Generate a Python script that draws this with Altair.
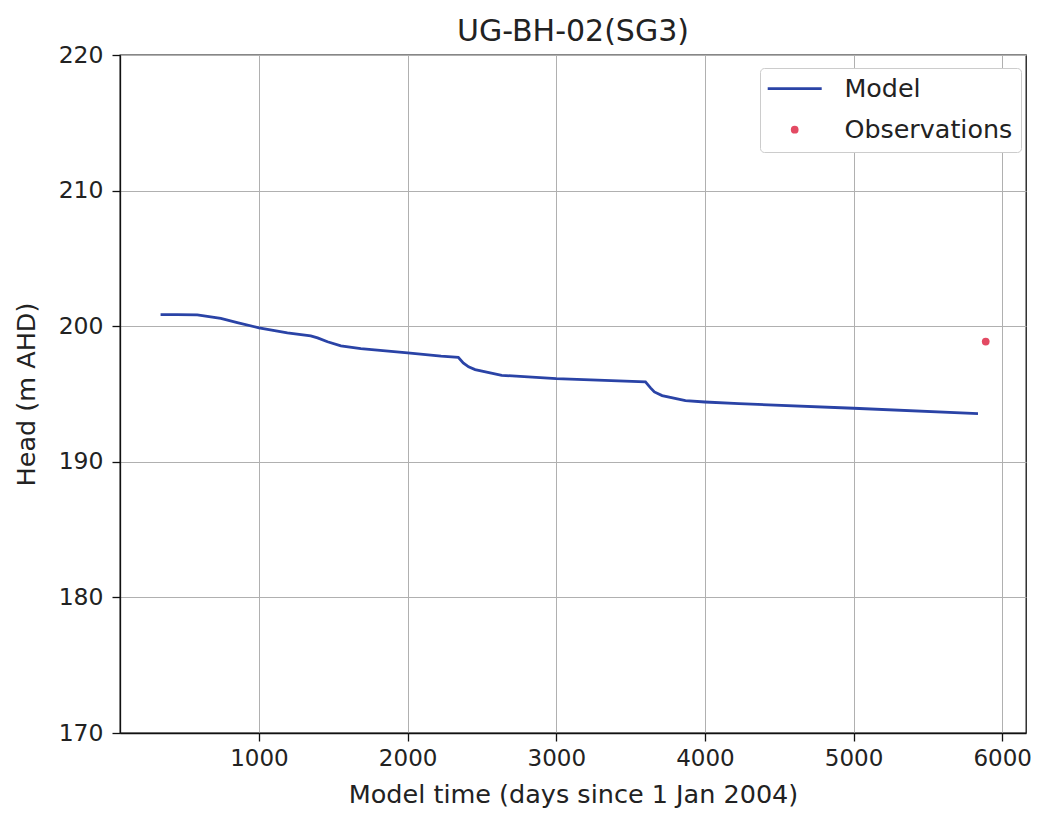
import altair as alt
import pandas as pd

model_days = [338, 450, 585, 743, 854, 1000, 1191, 1348, 1394, 1461, 1551, 1685, 2000,
              2225, 2341, 2374, 2410, 2454, 2633, 3000, 3600, 3634, 3660, 3712, 3869,
              4000, 4229, 5000, 5837]
model_head = [200.86, 200.86, 200.84, 200.57, 200.27, 199.88, 199.51, 199.29, 199.14,
              198.85, 198.55, 198.35, 198.04, 197.79, 197.71, 197.29, 197.0, 196.8,
              196.38, 196.13, 195.89, 195.45, 195.15, 194.88, 194.51, 194.41, 194.29,
              193.95, 193.55]
obs_days = [5889]
obs_head = [198.87]

series_names = ["Model", "Observations"]
x_ticks = [1000, 2000, 3000, 4000, 5000, 6000]
y_ticks = [170, 180, 190, 200, 210, 220]

LINE_C = "#2a43a6"
OBS_C = "#e34a63"
FONT = "DejaVu Sans"

model_df = pd.DataFrame({"day": model_days, "head": model_head, "series": "Model"})
obs_df = pd.DataFrame({"day": obs_days, "head": obs_head, "series": "Observations"})

xscale = alt.Scale(domain=[65, 6160], nice=False, zero=False)
yscale = alt.Scale(domain=[170, 220], nice=False, zero=False)
cscale = alt.Scale(domain=series_names, range=[LINE_C, OBS_C])

is_model = "datum.value === 'Model'"
legend = alt.Legend(
    title=None,
    orient="none",
    legendX=640,
    legendY=13,
    symbolType=alt.ExprRef(expr=f"{is_model} ? 'stroke' : 'circle'"),
    symbolSize=alt.ExprRef(expr=f"{is_model} ? 2916 : 60"),
    symbolStrokeWidth=alt.ExprRef(expr=f"{is_model} ? 2.8 : 0"),
    symbolFillColor=alt.ExprRef(expr=f"{is_model} ? 'transparent' : '{OBS_C}'"),
    symbolStrokeColor=alt.ExprRef(expr=f"{is_model} ? '{LINE_C}' : 'transparent'"),
    symbolOpacity=1,
    symbolOffset=14,
    rowPadding=14,
    labelFontSize=25.4,
    labelFont=FONT,
    labelColor="#222222",
    labelOffset=37,
    labelLimit=400,
    padding=8,
    strokeColor="#cccccc",
    fillColor="white",
    cornerRadius=4,
)

x_enc = alt.X("day:Q", scale=xscale,
              axis=alt.Axis(values=x_ticks, title="Model time (days since 1 Jan 2004)", format="d"))
y_enc = alt.Y("head:Q", scale=yscale,
              axis=alt.Axis(values=y_ticks, title="Head (m AHD)", format="d"))

line = alt.Chart(model_df).mark_line(strokeWidth=2.8, clip=True).encode(
    x=x_enc, y=y_enc,
    color=alt.Color("series:N", scale=cscale, legend=legend),
)
pts = alt.Chart(obs_df).mark_circle(size=60, opacity=1).encode(
    x=x_enc, y=y_enc,
    color=alt.Color("series:N", scale=cscale, legend=legend),
)

chart = alt.layer(line, pts).properties(
    width=906,
    height=678,
    title=alt.TitleParams("UG-BH-02(SG3)", fontSize=30, font=FONT, fontWeight="normal",
                          color="#222222", offset=-4, frame="group"),
    autosize=alt.AutoSizeParams(type="none"),
    padding={"left": 112, "top": 47, "right": 7, "bottom": 76},
).configure_view(
    stroke="#111111", strokeWidth=1.3
).configure_axis(
    grid=True, gridColor="#b0b0b0", gridWidth=1,
    domain=True, domainColor="#111111", domainWidth=1.3,
    ticks=True, tickColor="#111111", tickSize=8, tickWidth=1.3,
    labelFont=FONT, labelFontSize=23.5, labelColor="#222222",
    titleFont=FONT, titleFontSize=25.5, titleFontWeight="normal", titleColor="#222222",
).configure_axisY(
    titlePadding=19, labelPadding=9
).configure_axisX(
    titlePadding=12, labelPadding=6, labelFontSize=23
)

chart.save("out.html", embed_options={"renderer": "svg", "actions": False})
